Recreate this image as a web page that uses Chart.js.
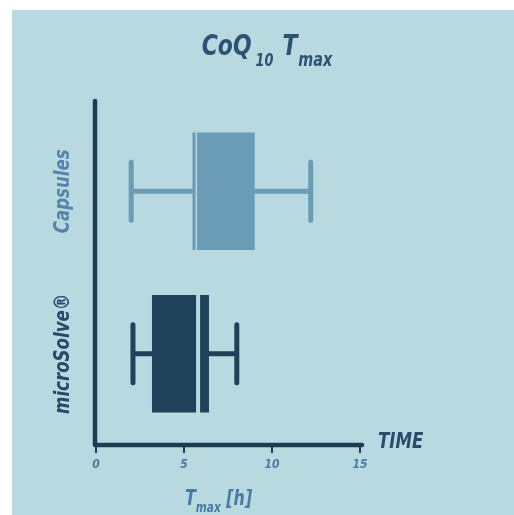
<!DOCTYPE html>
<html><head><meta charset="utf-8">
<script src="https://cdn.jsdelivr.net/npm/chart.js@4"></script>
<style>html,body{margin:0;padding:0;background:#fff;} canvas{display:block}</style>
</head><body>
<canvas id="c" width="514" height="515"></canvas>
<script>
const categories = ['Capsules', 'microSolve®'];
const whiskerLow = [2.0, 2.1];
const quartile1 = [5.5, 3.2];
const medians = [5.7, 5.8];
const quartile3 = [9.0, 6.4];
const whiskerHigh = [12.2, 8.0];
const xTickValues = [0, 5, 10, 15];
const xMin = 0, xMax = 15;

const FONT = '"Liberation Sans Narrow","DejaVu Sans Condensed",sans-serif';
const PANEL = '#b8d9e0';
const AXIS = '#1e3d54';
const boxColors = ['#6a9db5', '#1f4159'];
const labelColors = ['#5585ad', '#27496a'];
const medianGap = [1.5, 4];
const SX = 0.84; // horizontal condensing of drawn text

function textWidth(ctx, t, f) {
  ctx.font = 'italic bold ' + f + 'px ' + FONT;
  return ctx.measureText(t).width * SX;
}
function drawText(ctx, t, x, y, f, color, align) {
  ctx.save();
  ctx.font = 'italic bold ' + f + 'px ' + FONT;
  ctx.fillStyle = color;
  ctx.textAlign = align || 'left';
  ctx.textBaseline = 'alphabetic';
  ctx.translate(x, y);
  ctx.scale(SX, 1);
  ctx.fillText(t, 0, 0);
  ctx.restore();
}

const boxPlugin = {
  id: 'boxDeco',
  beforeDraw(chart) {
    const ctx = chart.ctx;
    ctx.save();
    ctx.fillStyle = '#ffffff';
    ctx.fillRect(0, 0, chart.width, chart.height);
    ctx.fillStyle = PANEL;
    ctx.fillRect(12, 10, chart.width - 12, chart.height - 10);
    ctx.restore();
  },
  afterDatasetsDraw(chart) {
    const ctx = chart.ctx;
    const xs = chart.scales.x, ys = chart.scales.y;
    const px = v => xs.getPixelForValue(v);
    ctx.save();
    categories.forEach((c, i) => {
      const y = ys.getPixelForValue(i);
      ctx.strokeStyle = boxColors[i];
      ctx.lineWidth = 5;
      ctx.lineCap = 'butt';
      ctx.beginPath();
      ctx.moveTo(px(whiskerLow[i]), y); ctx.lineTo(px(quartile1[i]), y);
      ctx.moveTo(px(quartile3[i]), y); ctx.lineTo(px(whiskerHigh[i]), y);
      ctx.stroke();
      ctx.lineCap = 'round';
      ctx.beginPath();
      ctx.moveTo(px(whiskerLow[i]), y - 29); ctx.lineTo(px(whiskerLow[i]), y + 29);
      ctx.moveTo(px(whiskerHigh[i]), y - 29); ctx.lineTo(px(whiskerHigh[i]), y + 29);
      ctx.stroke();
      ctx.lineCap = 'butt';
      ctx.strokeStyle = PANEL;
      ctx.lineWidth = medianGap[i];
      ctx.beginPath();
      ctx.moveTo(px(medians[i]), y - 60); ctx.lineTo(px(medians[i]), y + 60);
      ctx.stroke();
    });
    ctx.restore();
  },
  afterDraw(chart) {
    const ctx = chart.ctx;
    const ca = chart.chartArea;
    const xs = chart.scales.x, ys = chart.scales.y;
    ctx.save();
    // axis lines
    ctx.strokeStyle = AXIS;
    ctx.lineWidth = 4.5;
    ctx.lineCap = 'round';
    ctx.lineJoin = 'round';
    const axX = ca.left - 1, axY = ca.bottom + 10;
    ctx.beginPath();
    ctx.moveTo(axX, ca.top - 9);
    ctx.lineTo(axX, axY);
    ctx.lineTo(ca.right + 2, axY);
    ctx.stroke();
    ctx.lineCap = 'butt';
    ctx.lineWidth = 2;
    ctx.beginPath();
    xTickValues.forEach(v => {
      const x = xs.getPixelForValue(v);
      ctx.moveTo(x, axY); ctx.lineTo(x, axY + 8);
    });
    ctx.stroke();

    // category labels (rotated)
    categories.forEach((c, i) => {
      const y = ys.getPixelForValue(i);
      ctx.save();
      ctx.translate(63, y);
      ctx.rotate(-Math.PI / 2);
      ctx.scale(SX, 1);
      ctx.font = 'italic bold 22px ' + FONT;
      ctx.fillStyle = labelColors[i];
      ctx.textAlign = 'center';
      ctx.textBaseline = 'middle';
      ctx.fillText(c, 0, 0);
      ctx.restore();
    });

    // title with subscripts
    const parts = [
      {t: 'CoQ', f: 29, dy: 0, gap: 4},
      {t: '10', f: 17, dy: 11, gap: 9},
      {t: 'T', f: 29, dy: 0, gap: 1},
      {t: 'max', f: 19, dy: 11, gap: 0}
    ];
    let total = 0;
    parts.forEach(p => { p.w = textWidth(ctx, p.t, p.f); total += p.w + p.gap; });
    let x0 = 267 - total / 2;
    parts.forEach(p => { drawText(ctx, p.t, x0, 55 + p.dy, p.f, '#2c5373'); x0 += p.w + p.gap; });

    // TIME
    drawText(ctx, 'TIME', 378, 448, 22, '#2a4d6c');

    // axis title T_max [h]
    let ax = 185;
    const tparts = [
      {t: 'T', f: 21, dy: 0},
      {t: 'max', f: 14, dy: 7},
      {t: ' [h]', f: 21, dy: 0}
    ];
    tparts.forEach(p => { drawText(ctx, p.t, ax, 505 + p.dy, p.f, '#4a7ba3'); ax += textWidth(ctx, p.t, p.f); });
    ctx.restore();
  }
};

new Chart(document.getElementById('c'), {
  type: 'bar',
  data: {
    labels: categories,
    datasets: [{
      data: categories.map((c, i) => [quartile1[i], quartile3[i]]),
      backgroundColor: boxColors,
      borderWidth: 0,
      barThickness: 117
    }]
  },
  options: {
    indexAxis: 'y',
    responsive: false,
    animation: false,
    events: [],
    layout: { padding: { left: 96, right: 154, top: 110, bottom: 0 } },
    plugins: { legend: { display: false }, tooltip: { enabled: false }, title: { display: false } },
    scales: {
      x: {
        type: 'linear', min: xMin, max: xMax,
        afterBuildTicks: s => { s.ticks = xTickValues.map(v => ({ value: v })); },
        afterFit: s => { s.height = 80; },
        grid: { display: false },
        border: { display: false },
        ticks: { color: '#4a7ba3', padding: 15, font: { family: FONT, size: 12, style: 'italic', weight: 'bold' } }
      },
      y: { type: 'category', display: false }
    }
  },
  plugins: [boxPlugin]
});
</script>
</body></html>
